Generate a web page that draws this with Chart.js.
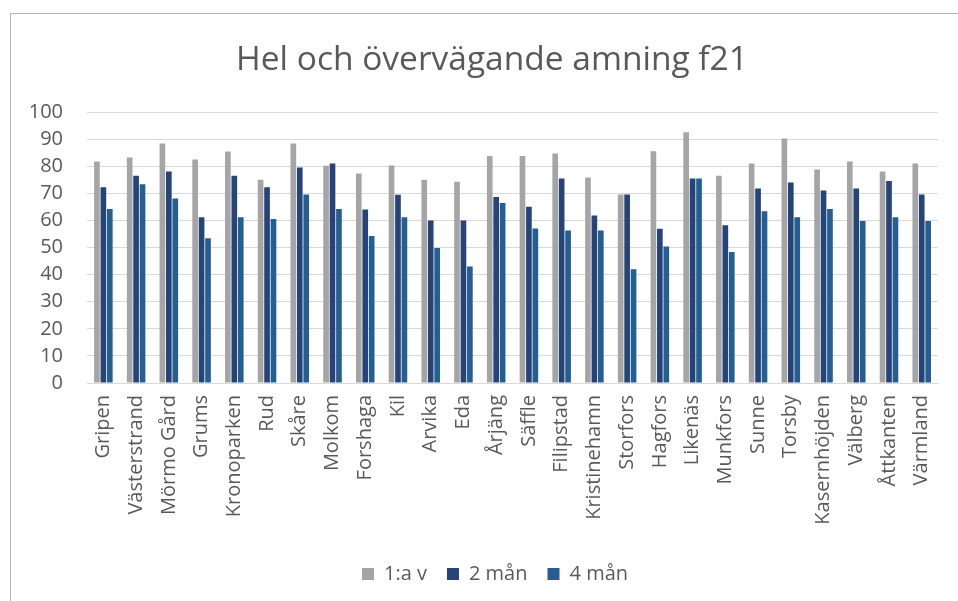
<!DOCTYPE html>
<html>
<head>
<meta charset="utf-8">
<script src="https://cdn.jsdelivr.net/npm/chart.js@4/dist/chart.umd.min.js"></script>
<style>
  html, body { margin: 0; padding: 0; background: #ffffff; width: 958px; height: 601px; overflow: hidden; }
  #frame { position: absolute; left: 10px; top: 13px; width: 980px; height: 620px; border: 1px solid #b4b4b4; box-sizing: border-box; }
  #c { position: absolute; left: 0; top: 0; }
</style>
</head>
<body>
<div id="frame"></div>
<canvas id="c" width="958" height="601"></canvas>
<script>
const titleText = "Hel och övervägande amning f21";
const categories = ["Gripen","Västerstrand","Mörmo Gård","Grums","Kronoparken","Rud","Skåre","Molkom","Forshaga","Kil","Arvika","Eda","Årjäng","Säffle","Filipstad","Kristinehamn","Storfors","Hagfors","Likenäs","Munkfors","Sunne","Torsby","Kasernhöjden","Välberg","Åttkanten","Värmland"];
const seriesNames = ["1:a v", "2 mån", "4 mån"];
const week1 = [81.7, 83.2, 88.4, 82.5, 85.4, 75.0, 88.4, 80.2, 77.3, 80.3, 75.0, 74.3, 83.8, 83.8, 84.7, 75.8, 69.6, 85.5, 92.5, 76.5, 81.0, 90.2, 78.8, 81.7, 78.0, 81.0];
const month2 = [72.2, 76.5, 78.0, 61.2, 76.5, 72.2, 79.5, 81.0, 64.0, 69.5, 60.0, 60.0, 68.6, 65.0, 75.5, 61.8, 69.6, 56.9, 75.5, 58.2, 71.8, 74.0, 71.0, 71.8, 74.5, 69.6];
const month4 = [64.2, 73.3, 68.1, 53.4, 61.2, 60.5, 69.6, 64.2, 54.2, 61.2, 49.8, 43.0, 66.4, 57.0, 56.3, 56.3, 42.0, 50.4, 75.5, 48.3, 63.4, 61.2, 64.2, 59.8, 61.2, 59.8];
const yMin = 0, yMax = 100, yStep = 10;

const FONT = "'Open Sans', sans-serif";
const TXT = "#595959";

const boxShift = {
  id: "boxShift",
  afterLayout(chart) {
    const l = chart.legend;
    if (l) { l.left += 23; l.right += 23; }
    const t = chart.titleBlock;
    if (t) { t.left += 20; t.right += 20; }
  }
};

new Chart(document.getElementById("c"), {
  type: "bar",
  data: {
    labels: categories,
    datasets: [
      { label: seriesNames[0], data: week1, backgroundColor: "#a5a5a5" },
      { label: seriesNames[1], data: month2, backgroundColor: "#264478" },
      { label: seriesNames[2], data: month4, backgroundColor: "#255e91" }
    ]
  },
  plugins: [boxShift],
  options: {
    responsive: false,
    devicePixelRatio: 1,
    animation: false,
    datasets: { bar: { categoryPercentage: 0.59, barPercentage: 0.88 } },
    layout: { padding: { left: 0, right: 14, top: 0, bottom: 7 } },
    plugins: {
      title: {
        display: true, text: titleText, color: TXT,
        font: { family: FONT, size: 33.5, weight: "normal" },
        padding: { top: 40, bottom: 31.8 }
      },
      legend: {
        position: "bottom",
        labels: {
          color: TXT, font: { family: FONT, size: 20 },
          boxWidth: 12, boxHeight: 12, padding: 20
        }
      },
      tooltip: { enabled: false }
    },
    scales: {
      y: {
        min: yMin, max: yMax,
        ticks: { stepSize: yStep, autoSkip: false, color: TXT, font: { family: FONT, size: 20 }, padding: 24 },
        grid: { color: "#d9d9d9", lineWidth: 1, drawTicks: false },
        border: { display: false },
        afterFit: (s) => { s.width = 87; }
      },
      x: {
        ticks: { color: TXT, font: { family: FONT, size: 20 }, autoSkip: false, maxRotation: 90, minRotation: 90, padding: 12 },
        grid: { display: false, drawTicks: false },
        border: { display: true, color: "#d9d9d9", width: 1 },
        afterFit: (s) => { s.height = 161; }
      }
    }
  }
});
</script>
</body>
</html>
